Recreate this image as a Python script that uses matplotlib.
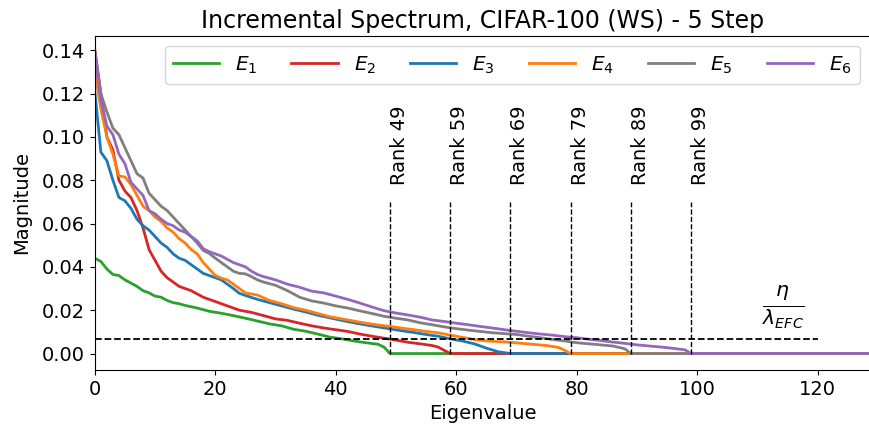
import matplotlib
matplotlib.use("Agg")
import matplotlib.pyplot as plt

# Eigenvalue magnitudes (index, value)
e1_x = [0, 1, 2, 3, 4, 5, 6, 7, 8, 9, 10, 11, 12, 13, 14, 15, 17, 19, 21, 23, 25, 27, 29, 31,
        33, 35, 37, 39, 41, 43, 45, 47, 48, 49, 130]
e1_y = [0.0440, 0.0425, 0.0390, 0.0365, 0.0360, 0.0340, 0.0325, 0.0310, 0.0290, 0.0280, 0.0265,
        0.0260, 0.0245, 0.0235, 0.0230, 0.0222, 0.0210, 0.0195, 0.0186, 0.0175, 0.0163, 0.0150,
        0.0137, 0.0128, 0.0112, 0.0103, 0.0090, 0.0076, 0.0068, 0.0058, 0.0050, 0.0043, 0.0030,
        0.0, 0.0]

e2_x = [0, 1, 2, 3, 4, 5, 6, 7, 8, 9, 10, 11, 12, 13, 14, 16, 18, 20, 22, 24, 26, 28, 30, 32,
        34, 36, 38, 40, 42, 44, 46, 48, 50, 52, 54, 56, 57, 58, 59, 130]
e2_y = [0.140, 0.120, 0.100, 0.094, 0.080, 0.075, 0.072, 0.066, 0.058, 0.048, 0.043, 0.038,
        0.035, 0.033, 0.031, 0.029, 0.026, 0.024, 0.022, 0.020, 0.019, 0.0175, 0.016, 0.0153,
        0.0140, 0.0128, 0.0118, 0.0110, 0.0102, 0.0090, 0.0080, 0.0071, 0.0062, 0.0052, 0.0045,
        0.0037, 0.0030, 0.0015, 0.0, 0.0]

e3_x = [0, 1, 2, 3, 4, 5, 6, 7, 8, 9, 10, 11, 12, 13, 14, 15, 16, 17, 18, 19, 20, 21, 22, 23,
        24, 25, 27, 29, 31, 33, 35, 37, 39, 41, 43, 45, 47, 49, 51, 53, 55, 57, 59, 61, 63, 65,
        67, 69, 130]
e3_y = [0.121, 0.093, 0.089, 0.080, 0.072, 0.0705, 0.067, 0.062, 0.059, 0.057, 0.054, 0.051,
        0.049, 0.046, 0.044, 0.043, 0.041, 0.039, 0.037, 0.036, 0.035, 0.034, 0.032, 0.030,
        0.0278, 0.0268, 0.025, 0.0235, 0.022, 0.0205, 0.0192, 0.0177, 0.0165, 0.0153, 0.0142,
        0.0132, 0.0123, 0.0114, 0.0105, 0.0097, 0.0088, 0.0080, 0.0068, 0.0058, 0.0045, 0.0025,
        0.0008, 0.0, 0.0]

e4_x = [0, 1, 2, 3, 4, 5, 6, 7, 8, 9, 10, 11, 12, 13, 14, 15, 16, 17, 18, 19, 20, 21, 22, 23,
        24, 25, 27, 29, 31, 33, 35, 37, 39, 41, 43, 45, 47, 49, 51, 53, 55, 57, 59, 61, 63, 65,
        67, 69, 71, 73, 75, 77, 78, 79, 130]
e4_y = [0.130, 0.113, 0.100, 0.092, 0.082, 0.0815, 0.078, 0.073, 0.068, 0.066, 0.063, 0.061,
        0.058, 0.056, 0.053, 0.051, 0.048, 0.046, 0.042, 0.039, 0.036, 0.0348, 0.034, 0.032,
        0.030, 0.028, 0.027, 0.0245, 0.023, 0.0212, 0.0200, 0.0185, 0.017, 0.016, 0.0150,
        0.0140, 0.0132, 0.0125, 0.0117, 0.0110, 0.0102, 0.0096, 0.0085, 0.0075, 0.0065, 0.0058,
        0.0055, 0.0052, 0.0047, 0.0042, 0.0037, 0.0028, 0.0015, 0.0, 0.0]

e5_x = [0, 1, 2, 3, 4, 5, 6, 7, 8, 9, 10, 11, 12, 13, 14, 15, 16, 17, 18, 19, 20, 21, 22, 23,
        24, 25, 26, 27, 28, 30, 32, 34, 36, 38, 40, 42, 44, 46, 48, 50, 52, 54, 56, 58, 60, 62,
        64, 66, 68, 70, 72, 74, 76, 78, 80, 82, 84, 86, 88, 89, 130]
e5_y = [0.140, 0.120, 0.1115, 0.104, 0.101, 0.095, 0.089, 0.083, 0.081, 0.074, 0.071, 0.068,
        0.066, 0.063, 0.060, 0.057, 0.054, 0.051, 0.0476, 0.0462, 0.044, 0.042, 0.040, 0.038,
        0.037, 0.0368, 0.0355, 0.034, 0.033, 0.0315, 0.029, 0.026, 0.0243, 0.0233, 0.0220,
        0.0210, 0.0197, 0.0185, 0.0172, 0.0163, 0.0155, 0.0142, 0.0133, 0.0123, 0.0115, 0.0108,
        0.0102, 0.0096, 0.0092, 0.0088, 0.0080, 0.0073, 0.0065, 0.0058, 0.0050, 0.0045, 0.0040,
        0.0035, 0.0022, 0.0, 0.0]

e6_x = [0, 1, 2, 3, 4, 5, 6, 7, 8, 9, 10, 11, 12, 13, 14, 15, 16, 17, 18, 19, 20, 21, 22, 23,
        24, 25, 26, 27, 28, 30, 32, 34, 36, 38, 40, 42, 44, 46, 48, 50, 52, 54, 56, 58, 60, 62,
        64, 66, 68, 70, 72, 74, 76, 78, 80, 82, 84, 86, 88, 90, 92, 94, 96, 98, 99, 130]
e6_y = [0.138, 0.117, 0.105, 0.101, 0.092, 0.0876, 0.079, 0.076, 0.073, 0.066, 0.0645, 0.062,
        0.060, 0.059, 0.057, 0.056, 0.054, 0.052, 0.0484, 0.047, 0.046, 0.045, 0.0435, 0.042,
        0.041, 0.040, 0.038, 0.0365, 0.0355, 0.034, 0.032, 0.0306, 0.0288, 0.028, 0.0265, 0.025,
        0.0233, 0.0215, 0.0198, 0.0187, 0.0178, 0.0168, 0.0155, 0.0148, 0.0140, 0.0133, 0.0125,
        0.0118, 0.0110, 0.0103, 0.0096, 0.0090, 0.0085, 0.0078, 0.0073, 0.0066, 0.0060, 0.0053,
        0.0047, 0.0040, 0.0035, 0.0030, 0.0024, 0.0017, 0.0, 0.0]

series = [(e1_x, e1_y), (e2_x, e2_y), (e3_x, e3_y), (e4_x, e4_y), (e5_x, e5_y), (e6_x, e6_y)]
labels = ["$E_1$", "$E_2$", "$E_3$", "$E_4$", "$E_5$", "$E_6$"]
colors = ["tab:green", "tab:red", "tab:blue", "tab:orange", "tab:gray", "tab:purple"]

ranks = [49, 59, 69, 79, 89, 99]
threshold = 0.0068

fig = plt.figure(figsize=(8.7, 4.3), dpi=100)
ax = fig.add_axes([0.109, 0.14, 0.891, 0.776])

for (xs, ys), lab, c in zip(series, labels, colors):
    ax.plot(xs, ys, color=c, lw=2, label=lab)

ax.hlines(threshold, 0, 120, colors="black", linestyles="--", lw=1.3)
ax.vlines(ranks, 0, 0.07, colors="black", linestyles="--", lw=1)
for r in ranks:
    ax.text(r, 0.078, f"Rank {r}", rotation=90, ha="left", va="bottom", fontsize=14)

ax.text(114.3, 0.0215, r"$\frac{\eta}{\lambda_{EFC}}$", ha="center", va="center", fontsize=21)

ax.set_xlim(0, 128.7)
ax.set_ylim(-0.0075, 0.1465)
ax.set_xticks([0, 20, 40, 60, 80, 100, 120])
ax.set_yticks([0.0, 0.02, 0.04, 0.06, 0.08, 0.10, 0.12, 0.14])
ax.tick_params(labelsize=14)
ax.set_xlabel("Eigenvalue", fontsize=14, labelpad=4)
ax.set_ylabel("Magnitude", fontsize=14, labelpad=8)
ax.set_title("Incremental Spectrum, CIFAR-100 (WS) - 5 Step", fontsize=17)
ax.legend(loc="upper right", ncol=6, fontsize=14.5, handlelength=2.3, columnspacing=1.68)

fig.savefig("out.png", dpi=100)
